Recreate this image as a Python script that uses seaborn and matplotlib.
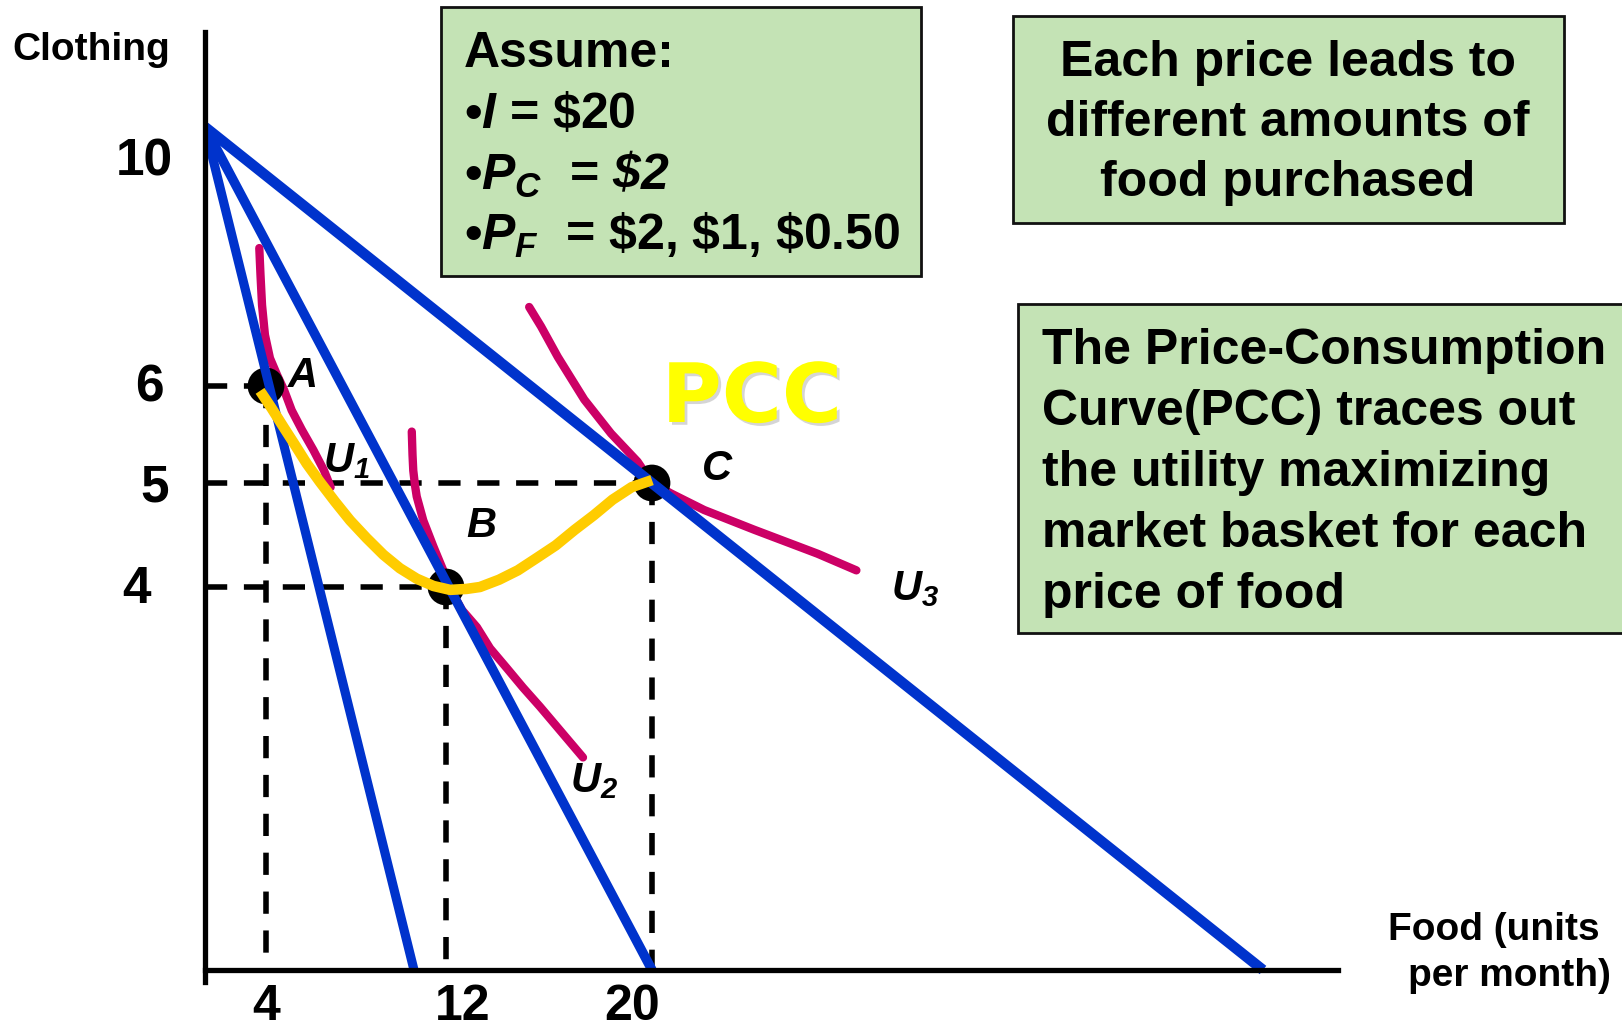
import matplotlib
matplotlib.use("Agg")
import numpy as np
import matplotlib.pyplot as plt
import matplotlib.patheffects as pe
from matplotlib.patches import Rectangle
import seaborn as sns

sns.set_theme(style="white")
plt.rcParams["font.family"] = ["Liberation Sans", "DejaVu Sans"]
plt.rcParams["font.weight"] = "bold"
plt.rcParams["text.color"] = "black"
plt.rcParams["mathtext.fontset"] = "custom"
# every math part in this chart is bold italic (letters and digits alike)
plt.rcParams["mathtext.rm"] = "Liberation Sans:italic:bold"
plt.rcParams["mathtext.it"] = "Liberation Sans:italic:bold"
plt.rcParams["mathtext.bf"] = "Liberation Sans:bold"

# ==================== data ====================
income = 20
price_clothing = 2
price_food = [2, 1, 0.5]

food_ticks = [4, 12, 20]
clothing_ticks = [4, 5, 6, 10]

basket_names = ["A", "B", "C"]
basket_food = [4, 12, 20]
basket_clothing = [6, 4, 5]

# indifference curves
u1_food = [3.56, 3.64, 3.74, 3.93, 4.16, 4.45, 4.73, 5.04, 5.45, 5.92, 6.35, 6.62]
u1_clothing = [8.13, 7.71, 7.25, 6.79, 6.43, 6.17, 5.96, 5.75, 5.55, 5.34, 5.13, 4.96]
u2_food = [9.91, 9.94, 9.97, 10.06, 10.17, 10.58, 11.21, 11.83, 12.23, 12.62, 13.20,
           13.71, 14.37, 14.99, 15.65, 16.50, 17.32]
u2_clothing = [5.53, 5.29, 5.13, 4.98, 4.87, 4.64, 4.39, 4.16, 3.95, 3.76, 3.58,
               3.36, 3.15, 2.95, 2.75, 2.48, 2.22]
u3_food = [15.23, 15.69, 16.34, 17.37, 18.41, 19.44, 20.0, 20.62, 21.71, 23.35, 25.42, 26.69]
u3_clothing = [7.22, 6.92, 6.45, 5.86, 5.51, 5.22, 5.0, 4.90, 4.74, 4.55, 4.32, 4.16]

# price-consumption curve
pcc_food = [3.61, 4.23, 4.70, 5.18, 5.65, 6.19, 6.80, 7.41, 8.08, 8.76, 9.43, 10.17, 11.21,
            12.16, 12.80, 13.32, 14.06, 14.79, 15.53, 16.26, 17.00, 17.74, 18.47, 19.21, 20.0]
pcc_clothing = [5.95, 5.77, 5.58, 5.39, 5.20, 5.01, 4.82, 4.64, 4.47, 4.31, 4.18, 4.08, 4.01,
                3.97, 3.98, 4.00, 4.07, 4.16, 4.28, 4.40, 4.55, 4.69, 4.84, 4.96, 5.03]

# ==================== layout ====================
W, H = 1622, 1027
BLUE, MAGENTA, GOLD = "#0033CC", "#CC0066", "#FFCC00"
BOX_FILL = "#C4E3B5"
budget_widths = [6.6, 6.9, 7.6]

# schematic (not to scale) axes: piecewise mapping data -> pixels
food_breaks = [-2, 0, 4, 10, 12, 20, 40, 50]
food_px = [174.5, 205, 266, 414, 446, 652, 1263, 1568.5]
cloth_breaks = [-1, 0, 4, 5, 6, 10, 12]
cloth_px = [1065.75, 970, 587, 483, 386, 127, -2.5]


def fwd_x(v):
    return np.interp(v, food_breaks, food_px)


def inv_x(p):
    return np.interp(p, food_px, food_breaks)


def fwd_y(v):
    return -np.interp(v, cloth_breaks, cloth_px)


def inv_y(t):
    return np.interp(-np.asarray(t), cloth_px[::-1], cloth_breaks[::-1])


def fx(px):
    return px / W


def fy(py):
    return 1 - py / H


fig = plt.figure(figsize=(W / 100, H / 100), dpi=100)
fig.patch.set_facecolor("white")
ax_l, ax_r, ax_t, ax_b = 205, 1338, 32, 982
ax = fig.add_axes([fx(ax_l), fy(ax_b), (ax_r - ax_l) / W, (ax_b - ax_t) / H])
ax.set_facecolor("none")
ax.set_xscale("function", functions=(fwd_x, inv_x))
ax.set_yscale("function", functions=(fwd_y, inv_y))

# dashed guides
dash = dict(color="black", linewidth=4.0, dashes=(4.0, 3.0), zorder=1)
for f, c in zip(basket_food, basket_clothing):
    ax.plot([0, f], [c, c], **dash)
    ax.plot([f, f], [c, 0], **dash)

# indifference curves
for xs, ys in [(u1_food, u1_clothing), (u2_food, u2_clothing), (u3_food, u3_clothing)]:
    sns.lineplot(x=xs, y=ys, sort=False, estimator=None, color=MAGENTA, linewidth=6.0,
                 solid_capstyle="round", solid_joinstyle="round", zorder=2, ax=ax)

# optimal baskets
sns.scatterplot(x=basket_food, y=basket_clothing, s=700, color="black",
                edgecolor="none", zorder=3, legend=False, ax=ax)

# budget lines
for pf, lw in zip(price_food, budget_widths):
    sns.lineplot(x=[0, income / pf], y=[income / price_clothing, 0], estimator=None,
                 color=BLUE, linewidth=lw, solid_capstyle="butt", zorder=4, ax=ax)

# PCC
sns.lineplot(x=pcc_food, y=pcc_clothing, sort=False, estimator=None, color=GOLD, linewidth=7.6,
             solid_capstyle="butt", solid_joinstyle="round", zorder=5, ax=ax)

ax.set_xlim(0, inv_x(ax_r))
ax.set_ylim(inv_y(-ax_b), inv_y(-ax_t))
ax.set_xticks([])
ax.set_yticks([])
ax.set_xlabel("")
ax.set_ylabel("")
for side in ["top", "right"]:
    ax.spines[side].set_visible(False)
for side in ["left", "bottom"]:
    ax.spines[side].set_linewidth(3.8)
    ax.spines[side].set_color("black")
    ax.spines[side].set_zorder(6)
ax.spines["bottom"].set_position(("data", 0))

# tick labels
ytick_offsets = {4: (-68, -16), 5: (-50, -18), 6: (-55.5, -15), 10: (-61, -48)}
for v in clothing_ticks:
    ax.annotate(str(v), (0, v), xytext=ytick_offsets[v], textcoords="offset pixels",
                ha="center", va="baseline", fontsize=37, fontweight="bold",
                annotation_clip=False)
xtick_offsets = {4: (0, -50), 12: (17, -50), 20: (-20, -50)}
for v in food_ticks:
    ax.annotate(str(v), (v, 0), xytext=xtick_offsets[v], textcoords="offset pixels",
                ha="center", va="baseline", fontsize=36, fontweight="bold",
                annotation_clip=False)

# point labels
label_offsets = [(22, -1), (20, 50), (50, 3)]
for name, f, c, off in zip(basket_names, basket_food, basket_clothing, label_offsets):
    ax.annotate(name, (f, c), xytext=off, textcoords="offset pixels", ha="left",
                va="baseline", fontsize=30, fontstyle="italic", fontweight="bold")

curve_labels = [
    (r"$U_1$", u1_food[-1], u1_clothing[-1], (-8, 15)),
    (r"$U_2$", u2_food[-1], u2_clothing[-1], (-13, -35)),
    (r"$U_3$", u3_food[-1], u3_clothing[-1], (35, -30)),
]
for txt, f, c, off in curve_labels:
    ax.annotate(txt, (f, c), xytext=off, textcoords="offset pixels", ha="left",
                va="baseline", fontsize=30)

# axis titles
fig.text(fx(12), fy(60), "Clothing", ha="left", va="baseline", fontsize=28, fontweight="bold")
fig.text(fx(1494), fy(940), "Food (units", ha="center", va="baseline", fontsize=28, fontweight="bold")
fig.text(fx(1509), fy(986), "per month)", ha="center", va="baseline", fontsize=28, fontweight="bold")

# PCC tag
fig.text(fx(752), fy(422), "PCC", ha="center", va="baseline", fontsize=59,
         fontfamily="DejaVu Sans", fontweight="bold", color="#FFFF00",
         path_effects=[pe.withSimplePatchShadow(offset=(2, -2), shadow_rgbFace="#888888", alpha=0.35)])


# green note boxes
def note_box(x0, y0, x1, y1):
    fig.add_artist(Rectangle((fx(x0), fy(y1)), (x1 - x0) / W, (y1 - y0) / H,
                             transform=fig.transFigure, facecolor=BOX_FILL,
                             edgecolor="#111111", lw=2, zorder=1))


note_box(441, 7, 921, 276)
assume_lines = ["Assume:", r"•$I$ = \$20", r"•$P_C$  = $\$2$", r"•$P_F$  = \$2, \$1, \$0.50"]
for line, base in zip(assume_lines, [67, 128, 190, 250]):
    fig.text(fx(464), fy(base), line, ha="left", va="baseline", fontsize=36,
             fontweight="bold", zorder=2)

note_box(1013, 16, 1564, 223)
each_lines = ["Each price leads to", "different amounts of", "food purchased"]
for line, base in zip(each_lines, [76, 136, 196]):
    fig.text(fx(1288), fy(base), line, ha="center", va="baseline", fontsize=36,
             fontweight="bold", zorder=2)

note_box(1018, 304, 1660, 633)
pcc_lines = ["The Price-Consumption", "Curve(PCC) traces out", "the utility maximizing",
             "market basket for each", "price of food"]
for line, base in zip(pcc_lines, [364, 425, 486, 547, 608]):
    fig.text(fx(1042), fy(base), line, ha="left", va="baseline", fontsize=36,
             fontweight="bold", zorder=2)

fig.savefig("out.png", dpi=100)
